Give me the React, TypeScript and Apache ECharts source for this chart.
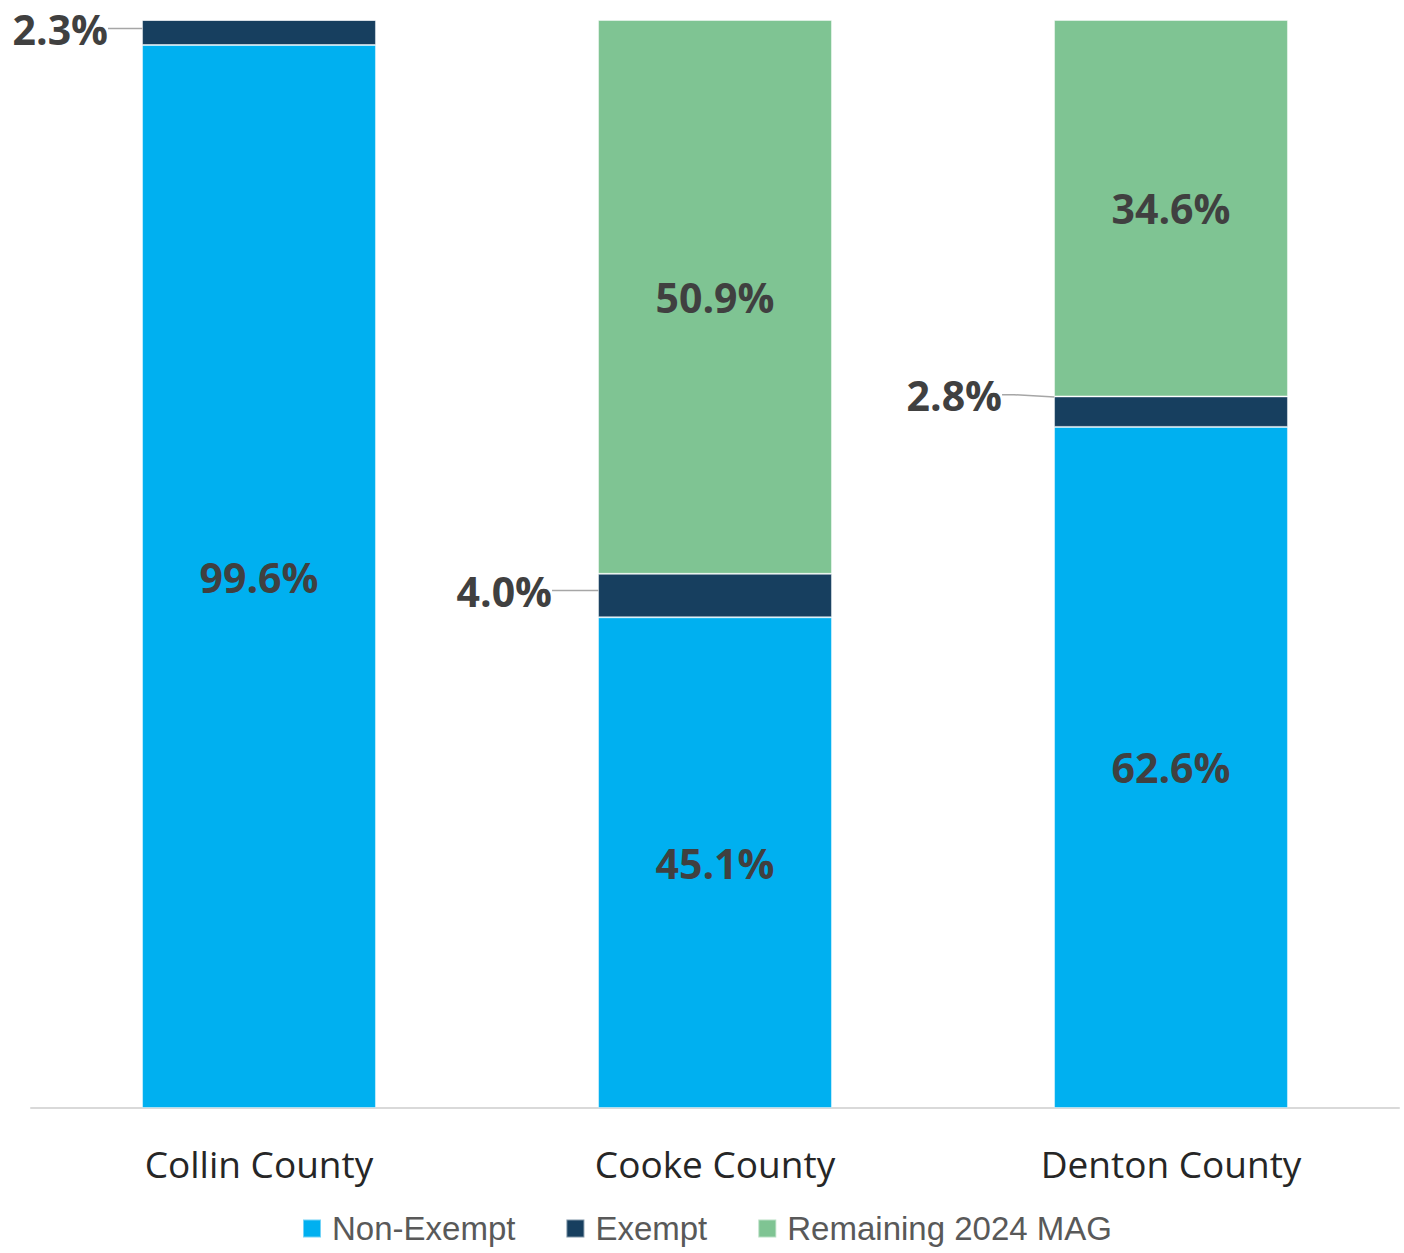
import React, { useEffect, useRef } from "react";
import * as echarts from "echarts";

const categories = ["Collin County", "Cooke County", "Denton County"];
const nonExemptValues = [97.7, 45.1, 62.6];
const nonExemptLabels = ["99.6%", "45.1%", "62.6%"];
const exemptValues = [2.3, 4.0, 2.8];
const exemptLabels = ["2.3%", "4.0%", "2.8%"];
const remainingValues = [0, 50.9, 34.6];
const remainingLabels = ["", "50.9%", "34.6%"];
const seriesNames = ["Non-Exempt", "Exempt", "Remaining 2024 MAG"];

const exemptLabelDy = [-4, -5, -17];
const exemptLabelDx = [-22, -34, -40];

export default function App() {
  const ref = useRef<HTMLDivElement>(null);
  useEffect(() => {
    if (!ref.current) return;
    const chart = echarts.init(ref.current, undefined, { renderer: "svg" });
    const insideLabel = (labels: string[]) => ({
      show: true,
      position: "inside",
      fontFamily: "Open Sans",
      fontWeight: "bold",
      fontSize: 41,
      color: "#404040",
      formatter: (p: any) => labels[p.dataIndex],
    });
    const border = { borderColor: "rgba(255,255,255,0.45)", borderWidth: 1 };
    chart.setOption({
      animation: false,
      backgroundColor: "#ffffff",
      grid: { left: 31, right: 5, top: 20, bottom: 145, containLabel: false },
      xAxis: {
        type: "category",
        data: categories,
        axisLine: { lineStyle: { color: "#D9D9D9", width: 2 } },
        axisTick: { show: false },
        axisLabel: {
          fontFamily: "Open Sans",
          fontSize: 37,
          color: "#262626",
          margin: 37,
        },
      },
      yAxis: {
        type: "value",
        min: 0,
        max: 100,
        show: false,
        splitLine: { show: false },
      },
      legend: {
        top: 1212,
        left: 302,
        padding: 0,
        itemWidth: 18,
        itemHeight: 18,
        itemGap: 50,
        icon: "rect",
        textStyle: {
          fontFamily: "Liberation Sans",
          fontSize: 33,
          color: "#595959",
          padding: [0, 0, 0, 6],
        },
        data: seriesNames,
      },
      series: [
        {
          name: seriesNames[0],
          type: "bar",
          stack: "total",
          barWidth: "51.3%",
          data: nonExemptValues,
          itemStyle: { color: "#00B0F0", ...border },
          label: insideLabel(nonExemptLabels),
        },
        {
          name: seriesNames[1],
          type: "bar",
          stack: "total",
          data: exemptValues,
          itemStyle: { color: "#173F5F", ...border },
          label: {
            show: true,
            position: "left",
            distance: 12,
            fontFamily: "Open Sans",
            fontWeight: "bold",
            fontSize: 41,
            color: "#404040",
            padding: [0, 10, 0, 0],
            formatter: (p: any) => exemptLabels[p.dataIndex],
          },
          labelLayout: (p: any) => ({
            dx: exemptLabelDx[p.dataIndex] + 10,
            dy: exemptLabelDy[p.dataIndex],
          }),
          labelLine: {
            show: true,
            length2: 12,
            lineStyle: { color: "#A6A6A6", width: 1.5 },
          },
        },
        {
          name: seriesNames[2],
          type: "bar",
          stack: "total",
          data: remainingValues,
          itemStyle: { color: "#7FC493", ...border },
          label: insideLabel(remainingLabels),
        },
      ],
    });
    return () => chart.dispose();
  }, []);
  return (
    <div
      ref={ref}
      style={{ position: "fixed", left: 0, top: 0, width: 1404, height: 1253 }}
    />
  );
}
